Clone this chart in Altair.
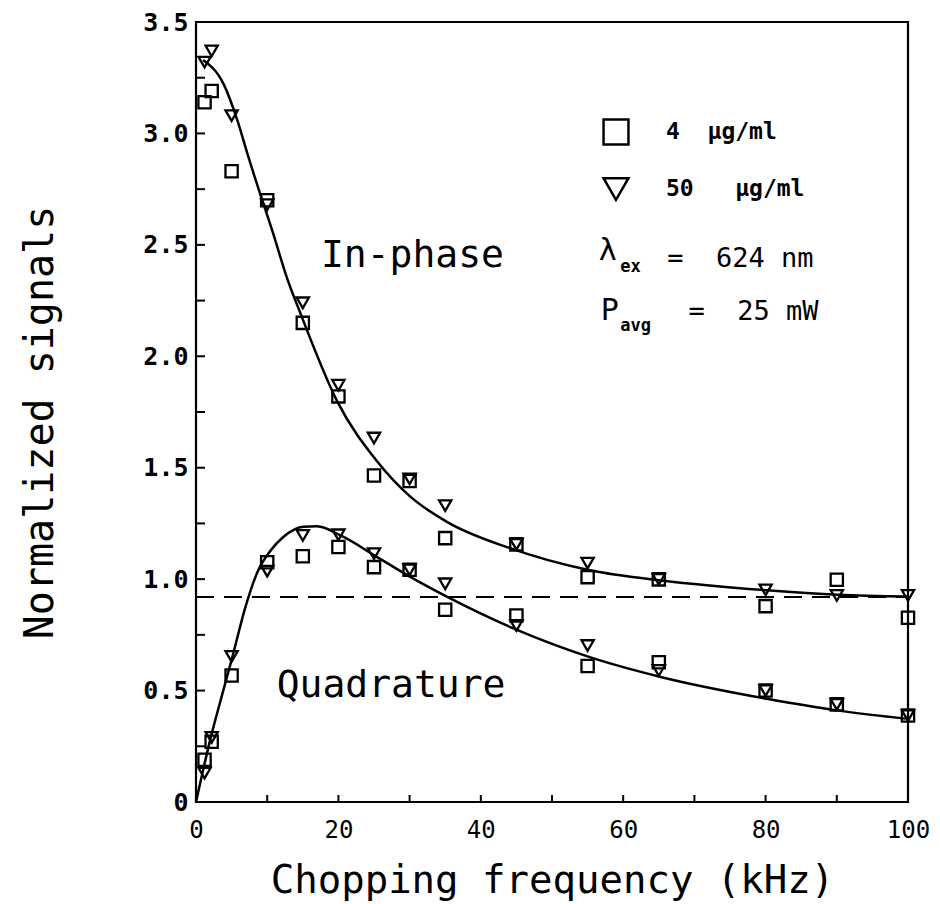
import altair as alt
import pandas as pd

# ---------------- data ----------------
LBL4 = "4\u00a0\u00a0µg/ml"
LBL50 = "50\u00a0\u00a0\u00a0µg/ml"

freq = [1.2, 2.2, 5, 10, 15, 20, 25, 30, 35, 45, 55, 65, 80, 90, 100]
inphase_4 = [3.14, 3.19, 2.83, 2.70, 2.15, 1.82, 1.465, 1.44, 1.184, 1.156, 1.009, 0.999, 0.879, 0.997, 0.827]
quad_4 = [0.19, 0.27, 0.568, 1.076, 1.103, 1.144, 1.054, 1.042, 0.863, 0.837, 0.61, 0.627, 0.50, 0.438, 0.388]
inphase_50 = [3.32, 3.37, 3.08, 2.68, 2.24, 1.87, 1.633, 1.45, 1.33, 1.156, 1.072, 0.999, 0.952, 0.927, 0.927]
quad_50 = [0.13, 0.29, 0.653, 1.036, 1.196, 1.199, 1.114, 1.042, 0.979, 0.792, 0.702, 0.59, 0.50, 0.438, 0.388]

inphase_curve_f = [1.0, 3.9, 5.8, 7.4, 9.0, 10.7, 12.8, 14.7, 19.8, 25.4, 30.1, 35.3, 44.0, 55.3, 65.4, 80.2, 90.2, 100]
inphase_curve_v = [3.33, 3.22, 3.06, 2.89, 2.73, 2.565, 2.35, 2.19, 1.80, 1.53, 1.37, 1.256, 1.14, 1.04, 0.994, 0.95, 0.93, 0.922]
quad_curve_f = [0, 2.0, 4.0, 5.1, 6.9, 8.6, 10.4, 12.3, 15.1, 17.0, 20.3, 25.4, 30.1, 35.3, 44.5, 55.3, 65.4, 80.2, 90.2, 100]
quad_curve_v = [0.0, 0.28, 0.52, 0.65, 0.87, 1.03, 1.125, 1.19, 1.235, 1.237, 1.196, 1.10, 1.01, 0.92, 0.78, 0.65, 0.56, 0.463, 0.41, 0.373]

asymptote = 0.92

x_label_values = [0, 20, 40, 60, 80, 100]
y_label_values = [0, 0.5, 1.0, 1.5, 2.0, 2.5, 3.0, 3.5]
x_tick_values = [10, 20, 30, 40, 50, 60, 70, 80, 90]
y_tick_values = [0.25, 0.5, 0.75, 1.0, 1.25, 1.5, 1.75, 2.0, 2.25, 2.5, 2.75, 3.0, 3.25]

# annotations (text, anchor in data units)
big_labels = ["In-phase", "Quadrature"]
big_f = [30.4, 27.4]
big_v = [2.40, 0.469]

sym_texts = ["λ", "P"]
sym_f = [56.55, 56.84]
sym_v = [2.43, 2.161]

sub_texts = ["ex", "avg"]
sub_f = [59.6, 59.6]
sub_v = [2.376, 2.112]

eq_texts = ["=\u00a0\u00a0624 nm", "=\u00a0\u00a025 mW"]
eq_f = [66.17, 69.16]
eq_v = [2.401, 2.161]

# ---------------- tables ----------------
rows = []
for conc, ip, qd in [(LBL4, inphase_4, quad_4), (LBL50, inphase_50, quad_50)]:
    for f, a, b in zip(freq, ip, qd):
        rows.append({"f": f, "v": a, "conc": conc, "comp": "in"})
        rows.append({"f": f, "v": b, "conc": conc, "comp": "quad"})
pts = pd.DataFrame(rows)

curves = pd.concat([
    pd.DataFrame({"f": inphase_curve_f, "v": inphase_curve_v, "curve": "in"}),
    pd.DataFrame({"f": quad_curve_f, "v": quad_curve_v, "curve": "quad"}),
])

xt = pd.DataFrame({"f": x_tick_values})
yt = pd.DataFrame({"v": y_tick_values})

MONO = "DejaVu Sans Mono"
W, H = 712, 780

xs = alt.Scale(domain=[0, 100], nice=False, zero=False)
ys = alt.Scale(domain=[0, 3.5], nice=False, zero=False)

x_axis = alt.Axis(
    values=x_label_values, title="Chopping frequency (kHz)", ticks=False, domain=False,
    grid=False, labelFont=MONO, labelFontSize=24, labelColor="black", labelPadding=16,
    labelFlush=False, labelOverlap=False, titleFont=MONO, titleFontSize=39,
    titleFontWeight="normal", titleColor="black", titleX=W / 2, titleY=90,
    titleBaseline="alphabetic", titleAlign="center",
)
y_axis = alt.Axis(
    values=y_label_values, title="Normalized signals", ticks=False, domain=False,
    grid=False, labelFont=MONO, labelFontSize=25, labelFontWeight="bold",
    labelColor="black", labelPadding=8, labelFlush=False, labelOverlap=False,
    labelExpr="datum.value == 0 ? '0' : format(datum.value, '.1f')",
    titleFont=MONO, titleFontSize=40, titleFontWeight="normal", titleColor="black",
    titleX=-144, titleY=400, titleBaseline="alphabetic", titleAlign="center", titleAngle=270,
)

X = alt.X("f:Q", scale=xs, axis=x_axis)
Y = alt.Y("v:Q", scale=ys, axis=y_axis)
Xn = alt.X("f:Q", scale=xs)
Yn = alt.Y("v:Q", scale=ys)

points = alt.Chart(pts).mark_point(
    filled=False, color="black", strokeWidth=2.3, size=150, opacity=1
).encode(
    x=X, y=Y,
    shape=alt.Shape(
        "conc:N",
        scale=alt.Scale(domain=[LBL4, LBL50], range=["square", "triangle-down"]),
        legend=alt.Legend(
            title=None, orient="none", legendX=406, legendY=96, padding=0,
            symbolSize=620, symbolStrokeWidth=2.5, symbolStrokeColor="black",
            symbolFillColor="white", symbolOpacity=1, labelFont=MONO,
            labelFontSize=23, labelFontWeight="bold", labelColor="black",
            labelOffset=36, rowPadding=23, labelLimit=300,
        ),
    ),
)

lines = alt.Chart(curves).mark_line(
    color="black", strokeWidth=2.5, interpolate="monotone"
).encode(x=Xn, y=Yn, detail="curve:N")

dash = alt.Chart(pd.DataFrame({"v": [asymptote]})).mark_rule(
    color="black", strokeWidth=2, strokeDash=[18, 10]
).encode(y=Yn, x=alt.value(0), x2=alt.value(W))

xticks = alt.Chart(xt).mark_rule(color="black", strokeWidth=2).encode(
    x=Xn, y=alt.value(H), y2=alt.value(H - 7)
)
yticks = alt.Chart(yt).mark_rule(color="black", strokeWidth=2).encode(
    y=Yn, x=alt.value(0), x2=alt.value(9)
)

big = alt.Chart(pd.DataFrame({"f": big_f, "v": big_v, "t": big_labels})).mark_text(
    font=MONO, fontSize=38, align="center", baseline="alphabetic", color="black"
).encode(x=Xn, y=Yn, text="t:N")

sym = alt.Chart(pd.DataFrame({"f": sym_f, "v": sym_v, "t": sym_texts})).mark_text(
    font=MONO, fontSize=30, align="left", baseline="alphabetic", color="black"
).encode(x=Xn, y=Yn, text="t:N")

sub = alt.Chart(pd.DataFrame({"f": sub_f, "v": sub_v, "t": sub_texts})).mark_text(
    font=MONO, fontSize=17, fontWeight="bold", align="left", baseline="alphabetic", color="black"
).encode(x=Xn, y=Yn, text="t:N")

eq = alt.Chart(pd.DataFrame({"f": eq_f, "v": eq_v, "t": eq_texts})).mark_text(
    font=MONO, fontSize=27, align="left", baseline="alphabetic", color="black"
).encode(x=Xn, y=Yn, text="t:N")

chart = alt.layer(points, xticks, yticks, dash, lines, big, sym, sub, eq).properties(
    width=W, height=H,
    autosize=alt.AutoSizeParams(type="none"),
    padding={"left": 196, "top": 22, "right": 32, "bottom": 102},
    background="white",
).configure_view(stroke="black", strokeWidth=2.2)

chart.save("out.html", embed_options={"renderer": "svg", "actions": False})
